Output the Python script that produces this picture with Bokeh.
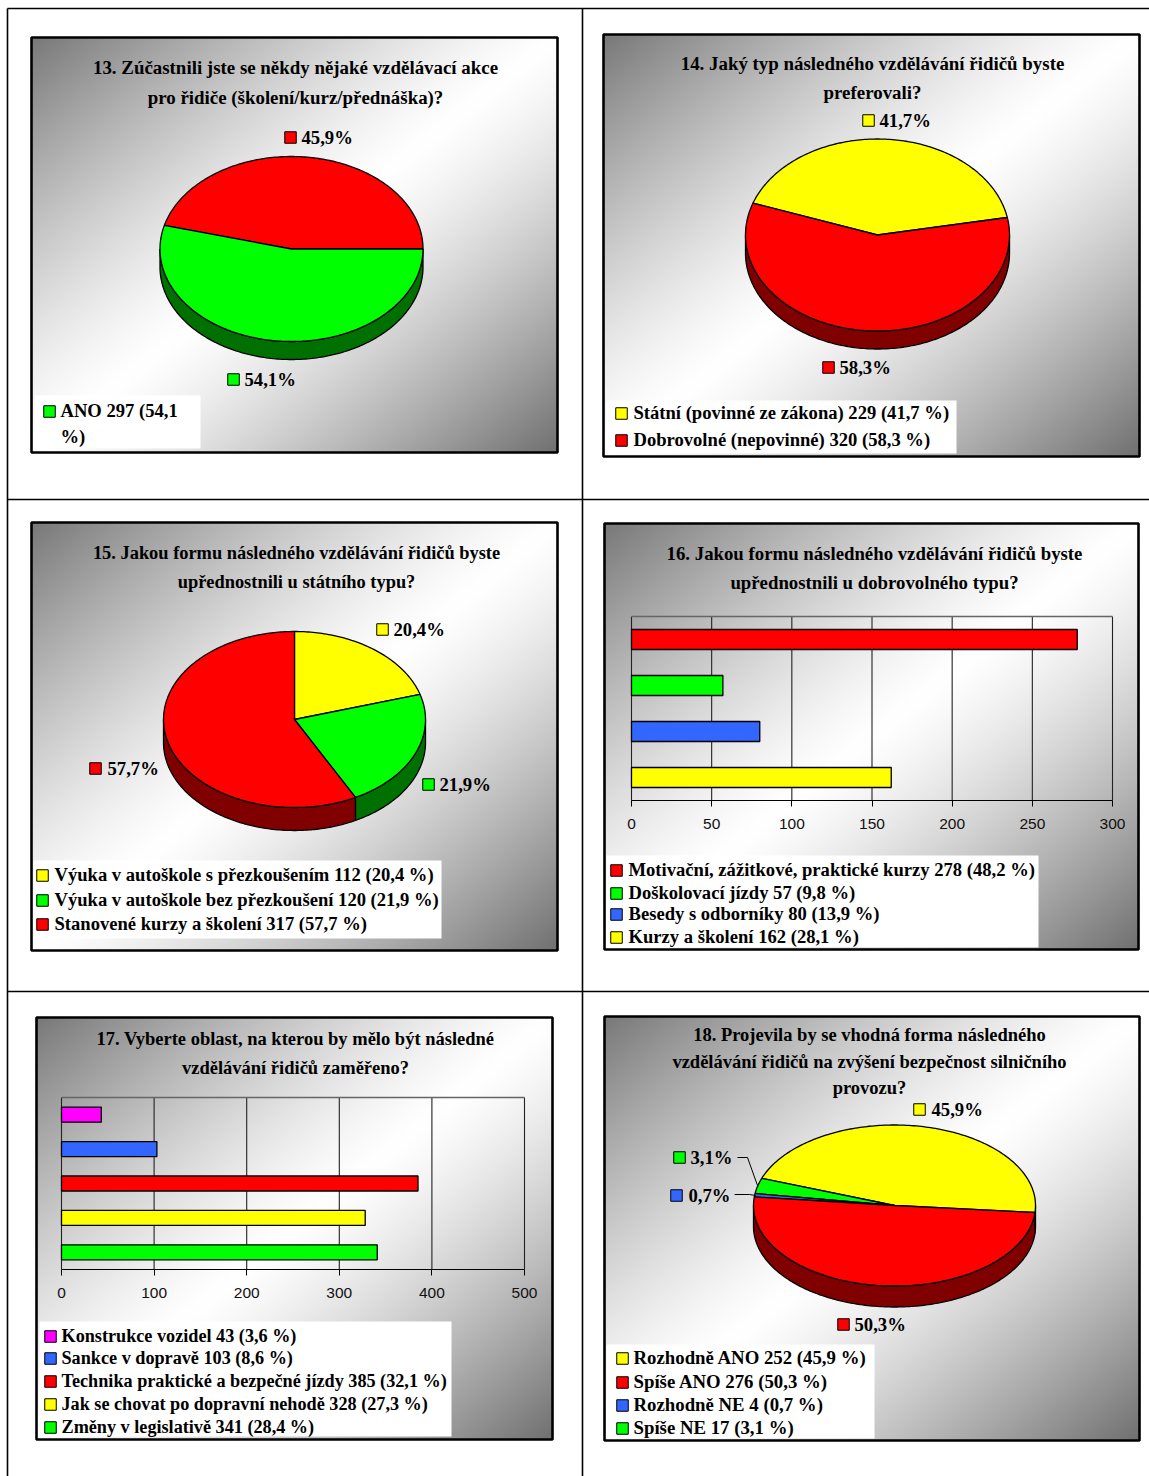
import numpy as np
from bokeh.core.properties import value
from bokeh.embed import file_html
from bokeh.models import FixedTicker, LinearAxis, Range1d
from bokeh.plotting import figure
from bokeh.resources import INLINE

WIDTH, HEIGHT = 1149, 1476

RED, GREEN, YELLOW, BLUE, MAGENTA = "#ff0000", "#00ff00", "#ffff00", "#3366ff", "#ff00ff"
SIDE = {RED: "#800000", GREEN: "#007000", YELLOW: "#808000", BLUE: "#1a3380"}

# Survey answers
q13_title = ["13. Zúčastnili jste se někdy nějaké vzdělávací akce",
             "pro řidiče (školení/kurz/přednáška)?"]
q13_shares = [45.9, 54.1]
q13_colors = [RED, GREEN]
q13_legend = ["ANO 297 (54,1", "%)"]

q14_title = ["14. Jaký typ následného vzdělávání řidičů byste", "preferovali?"]
q14_shares = [41.7, 58.3]
q14_colors = [YELLOW, RED]
q14_labels = ["Státní (povinné ze zákona)", "Dobrovolné (nepovinné)"]
q14_counts = [229, 320]

q15_title = ["15. Jakou formu následného vzdělávání řidičů byste",
             "upřednostnili u státního typu?"]
q15_shares = [20.4, 21.9, 57.7]
q15_colors = [YELLOW, GREEN, RED]
q15_labels = ["Výuka v autoškole s přezkoušením", "Výuka v autoškole bez přezkoušení",
              "Stanovené kurzy a školení"]
q15_counts = [112, 120, 317]

q16_title = ["16. Jakou formu následného vzdělávání řidičů byste",
             "upřednostnili u dobrovolného typu?"]
q16_labels = ["Motivační, zážitkové, praktické kurzy", "Doškolovací jízdy",
              "Besedy s odborníky", "Kurzy a školení"]
q16_counts = [278, 57, 80, 162]
q16_shares = [48.2, 9.8, 13.9, 28.1]
q16_colors = [RED, GREEN, BLUE, YELLOW]
q16_ticks = [0, 50, 100, 150, 200, 250, 300]

q17_title = ["17. Vyberte oblast, na kterou by mělo být následné",
             "vzdělávání řidičů zaměřeno?"]
q17_labels = ["Konstrukce vozidel", "Sankce v dopravě", "Technika praktické a bezpečné jízdy",
              "Jak se chovat po dopravní nehodě", "Změny v legislativě"]
q17_counts = [43, 103, 385, 328, 341]
q17_shares = [3.6, 8.6, 32.1, 27.3, 28.4]
q17_colors = [MAGENTA, BLUE, RED, YELLOW, GREEN]
q17_ticks = [0, 100, 200, 300, 400, 500]

q18_title = ["18. Projevila by se vhodná forma následného",
             "vzdělávání řidičů na zvýšení bezpečnost silničního", "provozu?"]
q18_shares = [45.9, 3.1, 0.7, 50.3]
q18_colors = [YELLOW, GREEN, BLUE, RED]
q18_labels = ["Rozhodně ANO", "Spíše ANO", "Rozhodně NE", "Spíše NE"]
q18_counts = [252, 276, 4, 17]
q18_legend_shares = [45.9, 50.3, 0.7, 3.1]
q18_legend_colors = [YELLOW, RED, BLUE, GREEN]


def pct(v):
    return f"{v:.1f}".replace(".", ",")


def legend_lines(labels, counts, shares):
    return [f"{l} {c} ({pct(s)} %)" for l, c, s in zip(labels, counts, shares)]


p = figure(width=WIDTH, height=HEIGHT, x_range=Range1d(0, WIDTH), y_range=Range1d(HEIGHT, 0),
           x_axis_type=None, y_axis_type=None, output_backend="svg", toolbar_location=None,
           min_border=0, outline_line_color=None, background_fill_color="white",
           border_fill_color="white")

SERIF = value("Liberation Serif")
INK = "#000000"
MARKER_SIZE = 11.5

# Table rules around the six cells
p.segment([7, 7, 582, 7, 7], [8, 8, 8, 499, 991], [WIDTH, 7, 582, WIDTH, WIDTH],
          [8, HEIGHT, HEIGHT, 499, 991], line_color="black", line_width=1.6)


def panel(l, t, r, b):
    """Grey diagonal gradient, white along the middle diagonal, with a black frame."""
    w, h = (r - l) // 2, (b - t) // 2
    xs, ys = np.meshgrid((np.arange(w) + .5) / w, (np.arange(h) + .5) / h)
    d = (xs + ys) / 2
    u = np.abs(d - .5) / .5
    g = 255 - np.where(d < .5, 255 - 120, 255 - 112) * u ** 1.3
    g = np.clip(g, 0, 255).astype(np.uint8)
    img = np.zeros((h, w), dtype=np.uint32)
    v = img.view(np.uint8).reshape((h, w, 4))
    v[..., 0] = v[..., 1] = v[..., 2] = g
    v[..., 3] = 255
    p.image_rgba(image=[img], x=l, y=t, dw=r - l, dh=b - t)
    p.quad(left=l, right=r, top=t, bottom=b, fill_color=None, line_color="black", line_width=2.6)


def titles(lines, cx, ys, size):
    p.text(x=[cx] * len(lines), y=ys, text=lines, text_font=SERIF, text_font_style="bold",
           text_font_size=f"{size}px", text_align="center", text_baseline="middle", text_color=INK)


def legend(box, lines, colors, mx, tx, ys, size=18.6):
    l, t, r, b = box
    p.quad(left=l, right=r, top=t, bottom=b, fill_color="white", line_color=None)
    p.scatter(x=[mx] * len(colors), y=ys[:len(colors)], marker="square", size=MARKER_SIZE,
              fill_color=colors, line_color="black", line_width=1)
    p.text(x=[tx] * len(lines), y=[y - 1 for y in ys], text=lines, text_font=SERIF, text_font_style="bold",
           text_font_size=f"{size}px", text_align="left", text_baseline="middle", text_color=INK)


def ellipse_arc(cx, cy, rx, ry, a0, a1, dy=0):
    a = np.radians(np.linspace(a0, a1, max(int(abs(a1 - a0)), 2) + 1))
    return cx + rx * np.cos(a), cy - ry * np.sin(a) + dy


def pie(shares, colors, cx, cy, rx, ry, depth, start, direction=1):
    """Tilted pie: slices run from `start` degrees, side wall on the front half."""
    edges = start + direction * np.cumsum([0] + list(shares)) * 3.6
    side_x, side_y, side_c, top_x, top_y, top_c = [], [], [], [], [], []
    for s0, s1, c in zip(edges[:-1], edges[1:], colors):
        a0, a1 = min(s0, s1), max(s0, s1)
        ax, ay = ellipse_arc(cx, cy, rx, ry, a0, a1)
        top_x.append(np.r_[cx, ax]), top_y.append(np.r_[cy, ay]), top_c.append(c)
        # front wall spans the part of the slice lying between 180 and 360 degrees
        for shift in (-360, 0, 360):
            f0, f1 = max(a0 + shift, 180), min(a1 + shift, 360)
            if f1 > f0:
                ux, uy = ellipse_arc(cx, cy, rx, ry, f0, f1)
                lx, ly = ellipse_arc(cx, cy, rx, ry, f1, f0, depth)
                side_x.append(np.r_[ux, lx]), side_y.append(np.r_[uy, ly]), side_c.append(SIDE[c])
    p.patches(side_x, side_y, fill_color=side_c, line_color="black", line_width=1.3)
    p.patches(top_x, top_y, fill_color=top_c, line_color="black", line_width=1.3)


def data_labels(shares, colors, mxs, mys, txs):
    p.scatter(x=mxs, y=mys, marker="square", size=MARKER_SIZE, fill_color=colors, line_color="black", line_width=1)
    p.text(x=txs, y=mys, text=[pct(s) + "%" for s in shares], text_font=SERIF, text_font_style="bold",
           text_font_size="18.7px", text_align="left", text_baseline="middle", text_color=INK)


def bars(name, counts, colors, ticks, l, t, r, b, thickness):
    """Horizontal bars on a value range and an index range of their own."""
    vmax = ticks[-1]
    k = vmax / (r - l)
    band = (b - t) / len(counts)
    p.extra_x_ranges[name] = Range1d(-l * k, (WIDTH - l) * k)
    p.extra_y_ranges[name] = Range1d((HEIGHT - t) / band - .5, -t / band - .5)
    n = len(counts)
    p.segment(x0=ticks, x1=ticks, y0=[-.5] * len(ticks), y1=[n - .5] * len(ticks),
              x_range_name=name, y_range_name=name, line_color="#222222", line_width=1.1)
    p.segment(x0=[0], x1=[vmax], y0=[-.5], y1=[-.5], x_range_name=name, y_range_name=name,
              line_color="#666666", line_width=1.6)
    p.hbar(y=list(range(n)), left=0, right=counts, height=thickness / band,
           x_range_name=name, y_range_name=name, fill_color=colors, line_color="black", line_width=1.3)
    axis = LinearAxis(x_range_name=name, fixed_location=b, ticker=FixedTicker(ticks=ticks),
                      bounds=(0, vmax), major_tick_in=0, major_tick_out=6,
                      minor_tick_line_color=None, major_label_standoff=12,
                      major_label_text_font="Liberation Sans", major_label_text_font_size="15.5px",
                      major_label_text_color="#111111", axis_line_color="black", major_tick_line_color="black")
    p.add_layout(axis, "below")


# 13
panel(31, 37, 557, 452)
titles(q13_title, 295, [67, 97], 18.9)
pie(q13_shares, q13_colors, 291, 248.5, 131.5, 92.5, 18, 0)
data_labels(q13_shares, q13_colors, [290, 233], [137, 379], [301, 244])
legend((34, 395, 200, 448), q13_legend, [GREEN], 49, 60, [411, 437])

# 14
panel(603, 34, 1139, 456)
titles(q14_title, 872, [63, 92], 18.9)
pie(q14_shares, q14_colors, 877, 234.5, 132, 96, 18, 10.5)
data_labels(q14_shares, q14_colors, [868, 828], [120, 367], [879, 839])
legend((606, 400, 956, 453), legend_lines(q14_labels, q14_counts, q14_shares), q14_colors, 621, 633, [413, 440])

# 15
panel(31, 522, 557, 950)
titles(q15_title, 296, [552, 581], 18.4)
pie(q15_shares, q15_colors, 294, 719, 131, 88, 23, 90, -1)
data_labels(q15_shares, q15_colors, [382, 428, 95], [629, 784, 768], [393, 439, 107])
legend((33, 860, 441, 938), legend_lines(q15_labels, q15_counts, q15_shares), q15_colors, 42, 54, [875, 900, 924])

# 16
panel(604, 523, 1138, 949)
titles(q16_title, 874, [553, 582], 18.8)
bars("q16", q16_counts, q16_colors, q16_ticks, 631, 616, 1112, 800, 20)
legend((606, 855, 1038, 947), legend_lines(q16_labels, q16_counts, q16_shares), q16_colors, 616, 628,
       [870, 893, 914, 937])

# 17
panel(36, 1017, 552, 1439)
titles(q17_title, 295, [1038, 1067], 18.5)
bars("q17", q17_counts, q17_colors, q17_ticks, 61, 1097, 524, 1269, 15)
legend((39, 1321, 451, 1436), legend_lines(q17_labels, q17_counts, q17_shares), q17_colors, 50, 61,
       [1336, 1358, 1381, 1404, 1427], size=18.2)

# 18
panel(604, 1016, 1139, 1440)
titles(q18_title, 869, [1034, 1061, 1087], 18.5)
pie(q18_shares, q18_colors, 894, 1205, 141, 80.5, 21, -5)
data_labels(q18_shares, q18_colors, [919, 679, 676, 843], [1109, 1157, 1195, 1324], [931, 690, 688, 854])
p.multi_line([[737, 747, 757], [734, 749, 755]], [[1157, 1157, 1185], [1194, 1194, 1195]],
             line_color="black", line_width=1)
legend((606, 1344, 874, 1438), legend_lines(q18_labels, q18_counts, q18_legend_shares), q18_legend_colors,
       622, 633, [1358, 1382, 1405, 1428], size=18.8)

open("out.html", "w").write(file_html(p, INLINE))
